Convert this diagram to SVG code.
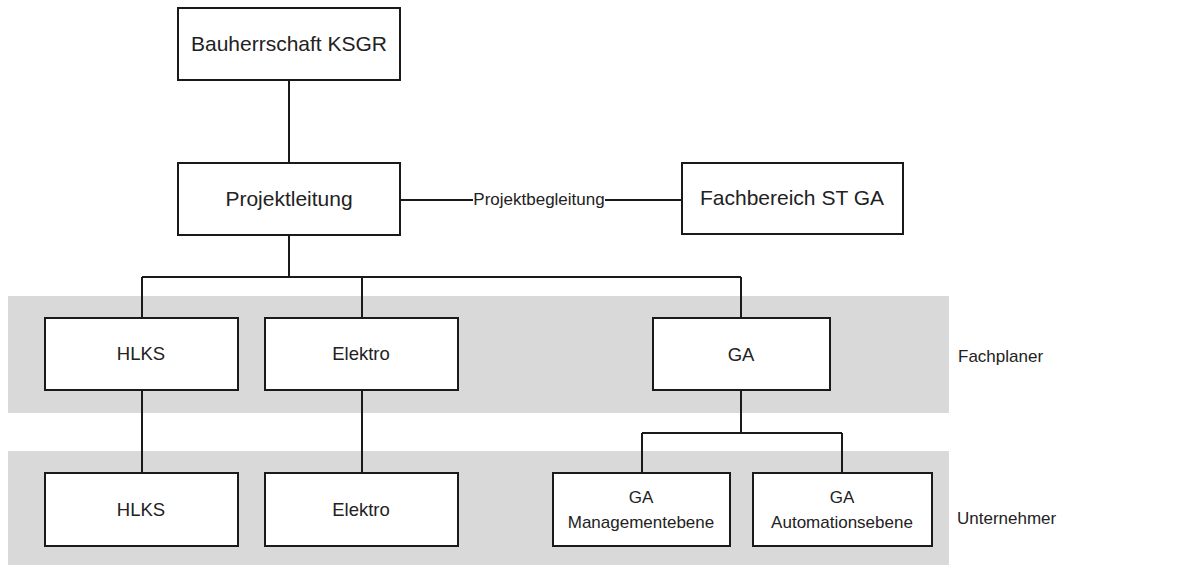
<svg xmlns="http://www.w3.org/2000/svg" width="1194" height="565" viewBox="0 0 1194 565">
<style>
.band{fill:#d9d9d9;stroke:none}
.box{fill:#fff;stroke:#1a1a1a;stroke-width:2}
.t{font-family:"Liberation Sans",Arial,sans-serif;fill:#222;text-anchor:middle}
.lg{font-size:21px}
.md{font-size:18.5px}
.sm{font-size:17px}
.lab{font-family:"Liberation Sans",Arial,sans-serif;fill:#222;font-size:17px}
.c{stroke:#1a1a1a;stroke-width:2;fill:none}
</style>
<rect width="1194" height="565" fill="#fff"/>
<g id="bands">
<rect class="band" x="8" y="296" width="941" height="117"/>
<rect class="band" x="8" y="451" width="941" height="114"/>
</g>
<g id="connectors">
<path class="c" d="M289 80V163"/>
<path class="c" d="M400 200H473M605 200H682"/>
<path class="c" d="M289 235V277M142 277H741M142 277V318M362 277V318M741 277V318"/>
<path class="c" d="M142 390V473M362 390V473"/>
<path class="c" d="M741 390V433M642 433H842M642 433V473M842 433V473"/>
<text class="lab" x="539" y="205" text-anchor="middle">Projektbegleitung</text>
</g>
<g id="bauherrschaft"><rect class="box" x="178" y="8" width="222" height="72"/><text class="t lg" x="289" y="51">Bauherrschaft KSGR</text></g>
<g id="projektleitung"><rect class="box" x="178" y="163" width="222" height="72"/><text class="t lg" x="289" y="206">Projektleitung</text></g>
<g id="fachbereich"><rect class="box" x="682" y="163" width="221" height="71"/><text class="t lg" x="792" y="205">Fachbereich ST GA</text></g>
<g id="fp-hlks"><rect class="box" x="45" y="318" width="193" height="72"/><text class="t md" x="141" y="360">HLKS</text></g>
<g id="fp-elektro"><rect class="box" x="265" y="318" width="193" height="72"/><text class="t md" x="361" y="360">Elektro</text></g>
<g id="fp-ga"><rect class="box" x="653" y="318" width="177" height="72"/><text class="t md" x="741" y="361">GA</text></g>
<g id="u-hlks"><rect class="box" x="45" y="473" width="193" height="73"/><text class="t md" x="141" y="516">HLKS</text></g>
<g id="u-elektro"><rect class="box" x="265" y="473" width="193" height="73"/><text class="t md" x="361" y="516">Elektro</text></g>
<g id="u-ga-mgmt"><rect class="box" x="553" y="473" width="177" height="73"/><text class="t sm" x="641" y="503">GA</text><text class="t sm" x="641" y="528">Managementebene</text></g>
<g id="u-ga-auto"><rect class="box" x="753" y="473" width="179" height="73"/><text class="t sm" x="842" y="503">GA</text><text class="t sm" x="842" y="528">Automationsebene</text></g>
<g id="labels">
<text class="lab" x="958" y="362">Fachplaner</text>
<text class="lab" x="957" y="524">Unternehmer</text>
</g>
</svg>
